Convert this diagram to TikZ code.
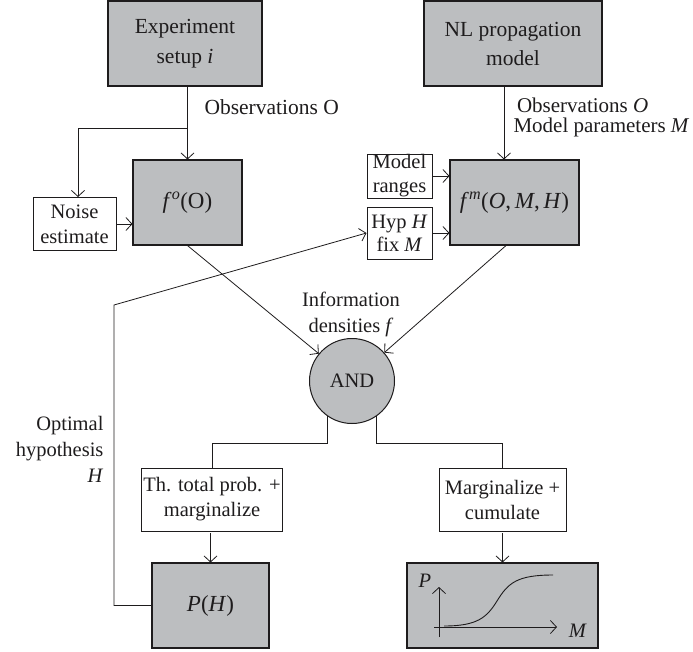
\documentclass[tikz,border=0pt]{standalone}
\usepackage{fontspec}
\setmainfont{Liberation Serif}
\usetikzlibrary{arrows.meta,calc}
\definecolor{boxgray}{RGB}{188,190,192}
\definecolor{inkc}{RGB}{30,28,29}
\tikzset{
  txt/.style={font=\fontsize{20.5}{25}\selectfont, text=inkc},
  gbox/.style={draw=inkc, line width=1.1pt, fill=boxgray, inner sep=0pt, align=center, txt},
  wbox/.style={draw=inkc, line width=1pt, fill=white, inner sep=0pt, align=center, txt},
  arr/.style={-{Straight Barb[length=6pt,width=13pt,line width=0.8pt]}, line width=0.8pt, draw=inkc},
  ln/.style={line width=0.8pt, draw=inkc},
  frm/.style={font=\fontsize{23}{27}\selectfont}
}
\begin{document}
\begin{tikzpicture}[x=1pt,y=-1pt]
\useasboundingbox (0,0) rectangle (693,651);

% top boxes
\node[gbox, minimum width=154pt, minimum height=85pt, font=\fontsize{21.5}{30}\selectfont] (exp) at (185,43.5) {Experiment\\setup \textit{i}};
\node[gbox, minimum width=178pt, minimum height=85pt, font=\fontsize{21.5}{29}\selectfont] (nl) at (513,43.5) {NL propagation\\model};

% density boxes
\node[gbox, minimum width=109pt, minimum height=85pt, frm] (fo) at (187.5,202.5) {\textit{f}\textsuperscript{\textit{o}}(O)};
\node[gbox, minimum width=129pt, minimum height=85pt, frm] (fm) at (514.5,202.5) {\textit{f}\textsuperscript{\textit{m}}(\textit{O},\,\textit{M},\,\textit{H})};

% small white boxes
\node[wbox, minimum width=83pt, minimum height=53pt] (noise) at (74.5,224) {Noise\\estimate};
\node[wbox, minimum width=65pt, minimum height=44pt, font=\fontsize{20.5}{24}\selectfont] (ranges) at (399.5,176) {Model\\ranges};
\node[wbox, minimum width=65pt, minimum height=52pt, font=\fontsize{20.5}{23}\selectfont] (hyp) at (399.5,233) {Hyp \textit{H}\\fix \textit{M}};

% AND circle
\node[circle, draw=inkc, line width=1pt, fill=boxgray, minimum size=85pt, inner sep=0pt, txt] (and) at (352,381) {AND};

% lower boxes
\node[wbox, minimum width=141pt, minimum height=63pt] (th) at (212,499.5) {Th. total prob. +\\marginalize};
\node[wbox, minimum width=127pt, minimum height=63pt] (marg) at (502.5,499.5) {Marginalize +\\cumulate};
\node[gbox, minimum width=117pt, minimum height=85pt, frm] (ph) at (210.5,605.5) {\textit{P}(\textit{H})};
\node[gbox, minimum width=191pt, minimum height=85pt] (cdf) at (502.5,605.5) {};

% labels
\node[txt, anchor=west, font=\fontsize{21.5}{25}\selectfont] (lobs) at (201,107) {Observations O};
\node[txt, anchor=west, align=left, font=\fontsize{21}{19.5}\selectfont] (lmod) at (510,117.5) {\,Observations \textit{O}\\Model parameters \textit{M}};
\node[txt, align=center, font=\fontsize{20.5}{26}\selectfont] (linfo) at (351,314) {Information\\densities \textit{f}};
\node[txt, anchor=east, align=right, font=\fontsize{20.5}{26}\selectfont] (lopt) at (107,449) {Optimal\\hypothesis\\\textit{H}};

% connectors top left
\coordinate (b1) at (187,128);
\coordinate (nx) at (78,0);
\draw[arr] (fo.north |- exp.south) -- (fo.north);
\draw[arr] (b1) -| (noise.north -| nx);
\draw[arr] (noise.east) -- (fo.west |- noise.east);

% connectors top right
\coordinate (mx) at (504,0);
\draw[arr] (nl.south -| mx) -- (fm.north -| mx);
\draw[arr] (ranges.east) -- (fm.west |- ranges.east);
\draw[arr] (hyp.east) -- (fm.west |- hyp.east);

% to AND
\draw[arr] (fo.south) -- (and);
\coordinate (fmx) at (506,0);
\draw[arr] (fm.south -| fmx) -- (and);

% feedback
\coordinate (fb1) at (114,305);
\draw[arr] (ph.west) -| (fb1) -- (hyp.west);

% AND branches
\coordinate (jL) at (0,443);
\draw[ln] (and.235) -- (and.235 |- jL) -| (th.north);
\draw[ln] (and.305) -- (and.305 |- jL) -| (marg.north);
\coordinate (gapTh) at (0,533);
\draw[arr] (ph.north |- gapTh) -- (ph.north);
\draw[arr] (cdf.north |- gapTh) -- (cdf.north);

% cdf sketch
\draw[arr] (439,637) -- (439,587);
\draw[arr] (434,627) -- (557,627);
\draw[ln, line width=0.9pt] (444,626) .. controls (478,626) and (487,617) .. (497,601) .. controls (508,583) and (517,575) .. (553,575);
\node[txt] (pl) at (425,581) {\textit{P}};
\node[txt] (ml) at (578,631) {\textit{M}};
\end{tikzpicture}
\end{document}
